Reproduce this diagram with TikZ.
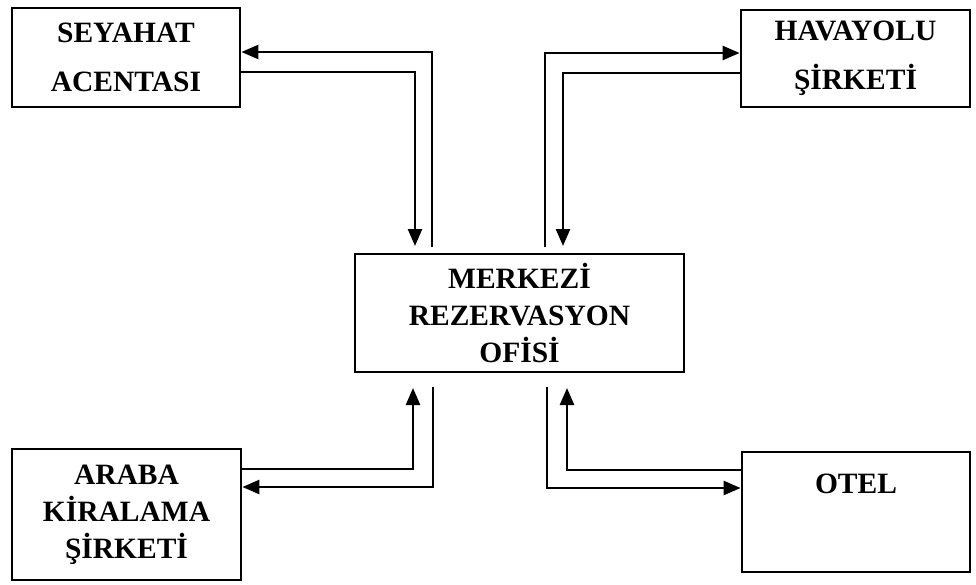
\documentclass[tikz,border=0pt]{standalone}
\usepackage{fontspec}
\setmainfont{Liberation Serif}
\usetikzlibrary{arrows.meta}
\begin{document}
\begin{tikzpicture}[x=1pt,y=-1pt,
  box/.style={draw, line width=2.8pt, inner sep=0pt, align=center},
  txt/.style={font=\fontsize{29.5}{37}\selectfont\bfseries},
  wide/.style={font=\fontsize{29.5}{49}\selectfont\bfseries},
  arr/.style={line width=2.5pt, -{Triangle[length=17pt,width=14pt]}},
  ln/.style={line width=2.5pt}]
\useasboundingbox (0,0) rectangle (976,584);

% boxes
\node[box, wide, minimum width=228pt, minimum height=99pt] (sa) at (126,57.5) {SEYAHAT\\ACENTASI};
\node[box, wide, minimum width=229pt, minimum height=97pt] (hs) at (855.5,58.5) {HAVAYOLU\\ŞİRKETİ};
\node[box, txt, minimum width=329pt, minimum height=118pt] (m) at (519.5,313) {MERKEZİ\\REZERVASYON\\OFİSİ};
\node[box, txt, minimum width=229pt, minimum height=131pt] (ak) at (126.5,514.5) {ARABA\\KİRALAMA\\ŞİRKETİ};
\node[box, minimum width=228pt, minimum height=120pt] (ot) at (856,512) {};
\node[txt] (otl) at (856,484) {OTEL};

% free ends near the central office
\coordinate (m1) at (432,247);
\coordinate (m2) at (415,246);
\coordinate (m3) at (545,247);
\coordinate (m4) at (563,246);
\coordinate (m5) at (413,388);
\coordinate (m6) at (433,387);
\coordinate (m7) at (567,388);
\coordinate (m8) at (547,387);

% connectors
\draw[arr] (m1) |- ([yshift=5.5pt]sa.east);
\draw[arr] ([yshift=-14.5pt]sa.east) -| (m2);
\draw[arr] (m3) |- ([yshift=5.5pt]hs.west);
\draw[arr] ([yshift=-14.5pt]hs.west) -| (m4);
\draw[arr] ([yshift=45.5pt]ak.east) -| (m5);
\draw[arr] (m6) |- ([yshift=27.5pt]ak.east);
\draw[arr] ([yshift=42pt]ot.west) -| (m7);
\draw[arr] (m8) |- ([yshift=24pt]ot.west);
\end{tikzpicture}
\end{document}
